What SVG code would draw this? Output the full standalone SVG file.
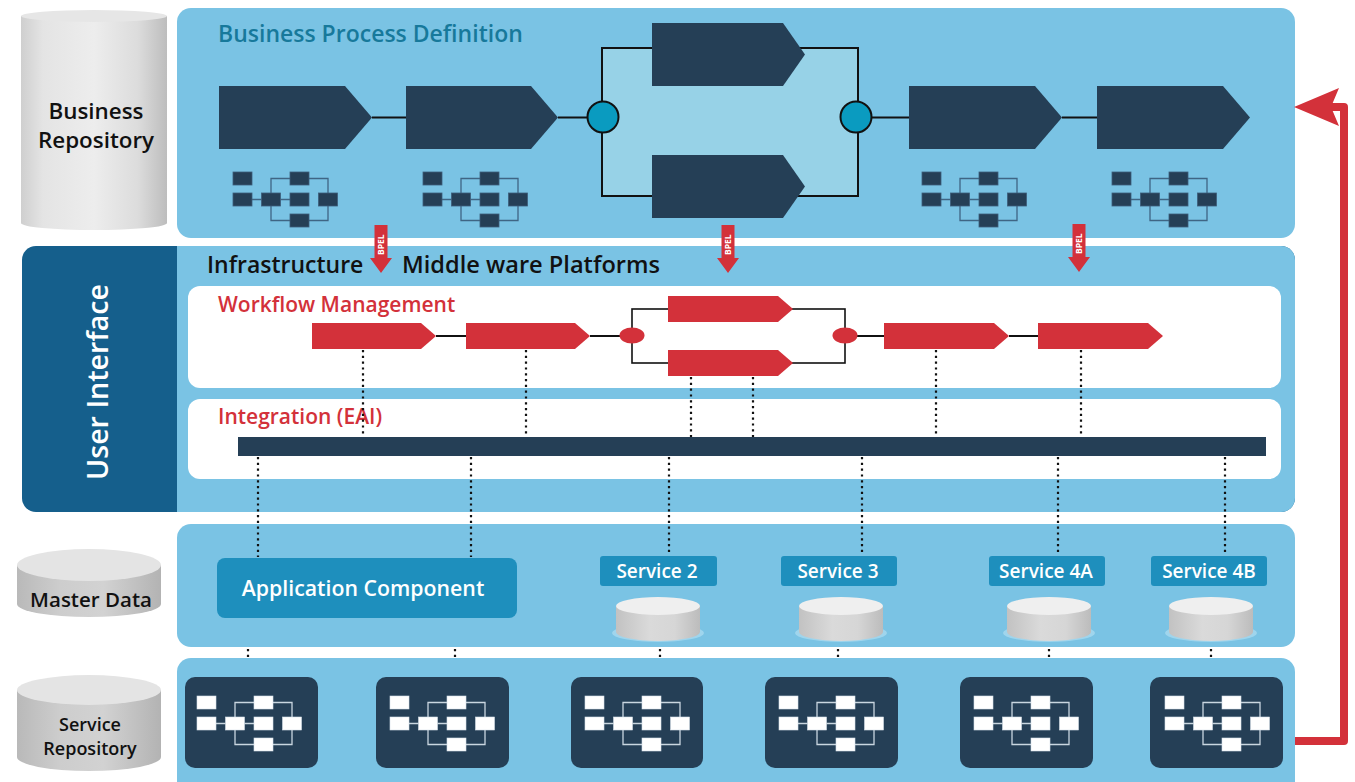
<svg xmlns="http://www.w3.org/2000/svg" width="1355" height="782" viewBox="0 0 1355 782">
  <defs>
    <style>
      .panel { fill: #7AC3E4; }
      .navy { fill: #253F56; }
      .red { fill: #D3313A; }
      .wire { stroke: #111; stroke-width: 2; fill: none; }
      .dot { stroke: #111; stroke-width: 2.2; stroke-dasharray: 2.2 3.6; fill: none; }
      .t { font-family: "Open Sans", "Liberation Sans", sans-serif; font-weight: 600; }
      .svc { fill: #1E8FBD; }
      .svct { font-family: "Open Sans", "Liberation Sans", sans-serif; font-weight: 600; font-size: 19px; fill: #fff; text-anchor: middle; }
      .card { fill: #253F56; }
      .bpel { font-family: "Open Sans", "Liberation Sans", sans-serif; font-weight: 700; font-size: 8.5px; fill: #fff; }
    </style>
    <linearGradient id="cylBody" x1="0" y1="0" x2="1" y2="0">
      <stop offset="0" stop-color="#cfcfcf"/>
      <stop offset="0.15" stop-color="#e4e4e4"/>
      <stop offset="0.5" stop-color="#ededed"/>
      <stop offset="0.8" stop-color="#dcdcdc"/>
      <stop offset="1" stop-color="#bdbdbd"/>
    </linearGradient>
    <linearGradient id="cylGrey" x1="0" y1="0" x2="1" y2="0">
      <stop offset="0" stop-color="#b9b9b9"/>
      <stop offset="0.3" stop-color="#cdcdcd"/>
      <stop offset="0.6" stop-color="#d2d2d2"/>
      <stop offset="1" stop-color="#b3b3b3"/>
    </linearGradient>
    <linearGradient id="cylSmall" x1="0" y1="0" x2="1" y2="0">
      <stop offset="0" stop-color="#c2c2c2"/>
      <stop offset="0.4" stop-color="#dadada"/>
      <stop offset="0.7" stop-color="#d6d6d6"/>
      <stop offset="1" stop-color="#bcbcbc"/>
    </linearGradient>
    <!-- small process-flow glyph: seven boxes with branch lines -->
    <g id="flowLines">
      <path d="M19 27.5 H28.5 M38 21 V6.5 H57 M47.5 27.5 H57 M38 34 V48.5 H57 M76 6.5 H95 V21 M76 48.5 H95 V34"/>
    </g>
    <g id="flowBoxes">
      <rect x="0" y="0" width="19" height="13"/>
      <rect x="0" y="21" width="19" height="13"/>
      <rect x="28.5" y="21" width="19" height="13"/>
      <rect x="57" y="0" width="19" height="13"/>
      <rect x="57" y="21" width="19" height="13"/>
      <rect x="57" y="42" width="19" height="13"/>
      <rect x="85.5" y="21" width="19" height="13"/>
    </g>
    <g id="flowDark">
      <use href="#flowLines" stroke="#3F6584" stroke-width="1.3" fill="none"/>
      <use href="#flowBoxes" fill="#253F56" stroke="#3d5e7b" stroke-width="0.8"/>
    </g>
    <g id="flowLight">
      <use href="#flowLines" stroke="#c9d6e0" stroke-width="1.3" fill="none"/>
      <use href="#flowBoxes" fill="#ffffff" stroke="#d8e2ea" stroke-width="0.6"/>
    </g>
    <!-- BPEL down arrow -->
    <g id="bpelArrow">
      <path class="red" d="M-6.5 0 H6.5 V33 H11 L0 48 L-11 33 H-6.5 Z"/>
      <text class="bpel" transform="translate(3 30) rotate(-90)">BPEL</text>
    </g>
    <!-- small service database -->
    <g id="smallDb">
      <ellipse cx="0" cy="27" rx="46" ry="9" fill="#a9d9ef" opacity="0.8"/>
      <path d="M-42 0 V26 A42 9 0 0 0 42 26 V0 Z" fill="url(#cylSmall)"/>
      <ellipse cx="0" cy="0" rx="42" ry="9" fill="#efefef"/>
    </g>
  </defs>

  <rect width="1355" height="782" fill="#ffffff"/>

  <!-- business repository store -->
  <g id="business-repository">
    <path d="M21 16 V223 A73 7 0 0 0 167 223 V16 Z" fill="url(#cylBody)"/>
    <ellipse cx="94" cy="16" rx="73" ry="6" fill="#e6e6e6"/>
    <text class="t" x="96" y="119" font-size="22.4" text-anchor="middle" fill="#111">Business</text>
    <text class="t" x="96" y="148" font-size="22.4" text-anchor="middle" fill="#111">Repository</text>
  </g>

  <!-- master data store -->
  <g id="master-data">
    <path d="M17 565 V604 A72 13 0 0 0 161 604 V565 Z" fill="url(#cylGrey)"/>
    <ellipse cx="89" cy="565" rx="72" ry="16" fill="#e4e4e4"/>
    <text class="t" x="91" y="607" font-size="20.5" text-anchor="middle" fill="#111">Master Data</text>
  </g>

  <!-- service repository store -->
  <g id="service-repository">
    <path d="M17 690 V757 A72 14 0 0 0 161 757 V690 Z" fill="url(#cylGrey)"/>
    <ellipse cx="89" cy="690" rx="72" ry="15" fill="#e4e4e4"/>
    <text class="t" x="90" y="731" font-size="18" text-anchor="middle" fill="#111">Service</text>
    <text class="t" x="90" y="755" font-size="18" text-anchor="middle" fill="#111">Repository</text>
  </g>

  <!-- business process definition layer -->
  <g id="business-process">
    <rect class="panel" x="177" y="8" width="1118" height="230" rx="14"/>
    <text class="t" x="218" y="42" font-size="23" fill="#17799B">Business Process Definition</text>
    <rect x="602" y="48" width="256" height="148" fill="#97D2E7" stroke="#111" stroke-width="2"/>
    <path class="wire" d="M372 117.5 H406 M558 117.5 H588 M871 117.5 H909 M1062 117.5 H1097"/>
    <path class="navy" d="M219 86 H345 L372 117.5 L345 149 H219 Z"/>
    <path class="navy" d="M406 86 H531 L558 117.5 L531 149 H406 Z"/>
    <path class="navy" d="M652 23 H783 L805 54.5 L783 86 H652 Z"/>
    <path class="navy" d="M652 155 H783 L805 186.5 L783 218 H652 Z"/>
    <path class="navy" d="M909 86 H1035 L1062 117.5 L1035 149 H909 Z"/>
    <path class="navy" d="M1097 86 H1223 L1250 117.5 L1223 149 H1097 Z"/>
    <circle cx="603" cy="117" r="15.5" fill="#0A9BC0" stroke="#111" stroke-width="2"/>
    <circle cx="856" cy="117" r="15.5" fill="#0A9BC0" stroke="#111" stroke-width="2"/>
    <use href="#flowDark" x="233" y="172"/>
    <use href="#flowDark" x="423" y="172"/>
    <use href="#flowDark" x="922" y="172"/>
    <use href="#flowDark" x="1112" y="172"/>
  </g>

  <!-- infrastructure / middleware layer -->
  <g id="middleware">
    <rect x="22" y="246" width="1273" height="266" rx="14" fill="#155F8C"/>
    <path class="panel" d="M177 246 H1281 A14 14 0 0 1 1295 260 V498 A14 14 0 0 1 1281 512 H177 Z"/>
    <text class="t" transform="translate(108 382) rotate(-90)" font-size="28.6" text-anchor="middle" fill="#fff">User Interface</text>
    <text class="t" x="207" y="273" font-size="23" fill="#111">Infrastructure</text>
    <text class="t" x="402" y="273" font-size="23.6" fill="#111">Middle ware Platforms</text>
  </g>

  <!-- workflow management -->
  <g id="workflow">
    <rect x="188" y="286" width="1093" height="102" rx="12" fill="#fff"/>
    <text class="t" x="218" y="312" font-size="21" fill="#D3313A">Workflow Management</text>
    <rect x="632" y="309" width="213" height="54" fill="none" stroke="#111" stroke-width="1.6"/>
    <path class="wire" d="M436 336 H466 M590 336 H620 M857 336 H884 M1009 336 H1038"/>
    <path class="red" d="M312 323 H421 L436 336 L421 349 H312 Z"/>
    <path class="red" d="M466 323 H575 L590 336 L575 349 H466 Z"/>
    <path class="red" d="M668 296 H778 L793 309 L778 322 H668 Z"/>
    <path class="red" d="M668 350 H778 L793 363 L778 376 H668 Z"/>
    <path class="red" d="M884 323 H994 L1009 336 L994 349 H884 Z"/>
    <path class="red" d="M1038 323 H1148 L1163 336 L1148 349 H1038 Z"/>
    <ellipse class="red" cx="632" cy="335.5" rx="12.5" ry="8"/>
    <ellipse class="red" cx="845" cy="335.5" rx="12.5" ry="8"/>
  </g>

  <!-- enterprise application integration bus -->
  <g id="integration">
    <rect x="188" y="399" width="1093" height="80" rx="12" fill="#fff"/>
    <text class="t" x="218" y="424" font-size="21" fill="#D3313A">Integration (EAI)</text>
    <rect x="238" y="437" width="1028" height="19" fill="#253F56"/>
  </g>

  <!-- BPEL hand-off arrows -->
  <g id="bpel-arrows">
    <use href="#bpelArrow" x="381" y="225"/>
    <use href="#bpelArrow" x="728" y="225"/>
    <use href="#bpelArrow" x="1079" y="224"/>
  </g>

  <!-- services layer -->
  <g id="services">
    <rect class="panel" x="177" y="524" width="1118" height="123" rx="14"/>
    <rect class="svc" x="217" y="558" width="300" height="60" rx="8"/>
    <text class="t" x="363" y="596" font-size="21.3" text-anchor="middle" fill="#fff">Application Component</text>
    <g id="service-2">
      <rect class="svc" x="600" y="556" width="117" height="30" rx="3"/>
      <text class="svct" x="657" y="578">Service 2</text>
      <use href="#smallDb" x="658" y="606"/>
    </g>
    <g id="service-3">
      <rect class="svc" x="781" y="556" width="116" height="30" rx="3"/>
      <text class="svct" x="838" y="578">Service 3</text>
      <use href="#smallDb" x="841" y="606"/>
    </g>
    <g id="service-4a">
      <rect class="svc" x="989" y="556" width="116" height="30" rx="3"/>
      <text class="svct" x="1046" y="578">Service 4A</text>
      <use href="#smallDb" x="1049" y="606"/>
    </g>
    <g id="service-4b">
      <rect class="svc" x="1151" y="556" width="116" height="30" rx="3"/>
      <text class="svct" x="1209" y="578">Service 4B</text>
      <use href="#smallDb" x="1211" y="606"/>
    </g>
  </g>

  <!-- service implementation layer -->
  <g id="implementations">
    <rect class="panel" x="177" y="658" width="1118" height="140" rx="14"/>
    <rect class="card" x="185" y="677" width="133" height="91" rx="10"/>
    <rect class="card" x="376" y="677" width="133" height="91" rx="10"/>
    <rect class="card" x="571" y="677" width="132" height="91" rx="10"/>
    <rect class="card" x="765" y="677" width="133" height="91" rx="10"/>
    <rect class="card" x="960" y="677" width="133" height="91" rx="10"/>
    <rect class="card" x="1150" y="677" width="133" height="91" rx="10"/>
    <use href="#flowLight" x="197" y="696"/>
    <use href="#flowLight" x="390" y="696"/>
    <use href="#flowLight" x="585" y="696"/>
    <use href="#flowLight" x="779" y="696"/>
    <use href="#flowLight" x="974" y="696"/>
    <use href="#flowLight" x="1165" y="696"/>
  </g>

  <!-- connectors -->
  <g id="connectors">
    <path class="dot" d="M363 350 V437 M526 350 V437 M691 377 V437 M753 377 V437 M936 350 V437 M1081 350 V437"/>
    <path class="dot" d="M258 457 V557 M471 457 V557 M669 457 V555 M862 457 V555 M1058 457 V555 M1225 457 V555"/>
    <path class="dot" d="M248 649 V658 M455 649 V658 M660 649 V658 M838 649 V658 M1049 649 V658 M1211 649 V658"/>
    <path d="M1295 741 H1344 V107 H1330" fill="none" stroke="#D3313A" stroke-width="8" stroke-linejoin="round"/>
    <path d="M1294 107 L1339 88 L1331 107 L1339 126 Z" fill="#D3313A"/>
  </g>
</svg>
